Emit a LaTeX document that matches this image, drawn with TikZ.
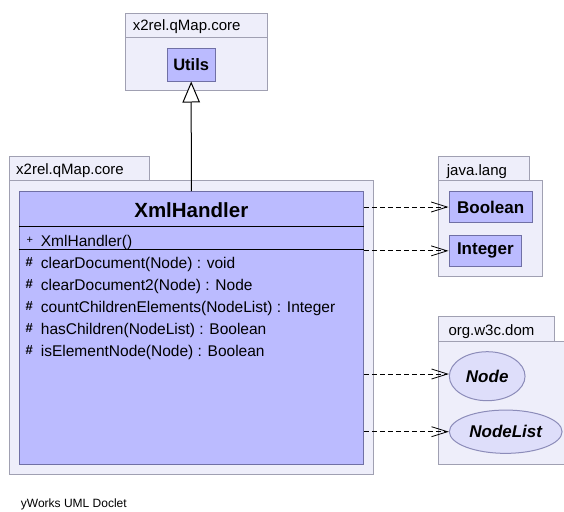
\documentclass[tikz,border=0pt]{standalone}
\usepackage{fontspec}
\setmainfont{Liberation Sans}
\usetikzlibrary{arrows.meta,shapes.geometric}

\definecolor{pkgfill}{RGB}{238,238,250}
\definecolor{pkgline}{RGB}{160,160,178}
\definecolor{clsfill}{RGB}{187,187,255}
\definecolor{clsline}{RGB}{112,112,165}
\definecolor{ifcfill}{RGB}{222,222,250}
\definecolor{ifcline}{RGB}{140,140,185}

\newcommand\fPkg{\fontsize{15}{15}\selectfont}
\newcommand\fMem{\fontsize{15.5}{16}\selectfont}
\newcommand\fMark{\fontsize{11}{11}\selectfont}
\newcommand\fHash{\fontsize{13}{13}\selectfont\bfseries}
\newcommand\fCls{\fontsize{16.5}{17}\selectfont\bfseries}
\newcommand\fTitle{\fontsize{20.5}{21}\selectfont\bfseries}
\newcommand\fFoot{\fontsize{12}{12}\selectfont}

\begin{document}
\begin{tikzpicture}[x=1pt,y=-1pt,
  pkg/.style={draw=pkgline, fill=pkgfill, line width=1pt},
  pkglabel/.style={anchor=base west, inner sep=0pt, font=\fPkg},
  cls/.style={draw=clsline, fill=clsfill, line width=1pt, inner sep=0pt, font=\fCls},
  ifc/.style={ellipse, draw=ifcline, fill=ifcfill, line width=1pt, inner sep=0pt,
              font=\fontsize{17}{17}\selectfont\bfseries\itshape},
  member/.style={anchor=base west, inner sep=0pt, font=\fMem},
  vis/.style={anchor=base west, inner sep=0pt, font=\fMark},
  prot/.style={anchor=base west, inner sep=0pt, font=\fHash},
  dep/.style={line width=0.8pt, dash pattern=on 5pt off 3pt,
              -{Straight Barb[length=16pt,width=10pt]}},
  gen/.style={line width=1pt, -{Triangle[length=21pt,width=17.5pt,fill=white]}}]

\clip (0,0) rectangle (564,511);
\fill[white] (0,0) rectangle (564,511);

% package holding Utils
\draw[pkg] (125.7,14) rectangle (267,37.7);
\draw[pkg] (125.7,37.7) rectangle (267,90.7);
\node[pkglabel] (lblUtilsPkg) at (132.7,30.5) {x2rel.qMap.core};
\node[cls, minimum width=47.7pt, minimum height=32pt] (utils) at (191.2,65) {Utils};

% package holding XmlHandler
\draw[pkg] (9,156) rectangle (149,180.7);
\draw[pkg] (9,180.7) rectangle (373,474);
\node[pkglabel] (lblMainPkg) at (16,174.7) {x2rel.qMap.core};

% class XmlHandler
\node[cls, minimum width=344pt, minimum height=272.3pt] (xml) at (191.3,327.85) {};
\node[anchor=base, inner sep=0pt, font=\fTitle] (xmlTitle) at (191.3,217) {XmlHandler};
\draw[line width=1pt] ([yshift=-35.6pt]xml.north west) -- ([yshift=-35.6pt]xml.north east);
\draw[line width=1pt] ([yshift=-58.3pt]xml.north west) -- ([yshift=-58.3pt]xml.north east);

\node[vis] (v0) at (26.5,243) {+};
\node[member] (m0) at (40.7,246) {XmlHandler()};
\node[prot] (v1) at (25.5,266.5) {\#};
\node[member] (m1) at (40.7,268) {clearDocument(Node) : void};
\node[prot] (v2) at (25.5,288.5) {\#};
\node[member] (m2) at (40.7,290) {clearDocument2(Node) : Node};
\node[prot] (v3) at (25.5,310.5) {\#};
\node[member] (m3) at (40.7,312) {countChildrenElements(NodeList) : Integer};
\node[prot] (v4) at (25.5,332.5) {\#};
\node[member] (m4) at (40.7,334) {hasChildren(NodeList) : Boolean};
\node[prot] (v5) at (25.5,354.5) {\#};
\node[member] (m5) at (40.7,356) {isElementNode(Node) : Boolean};

% package java.lang
\draw[pkg] (438,156.7) rectangle (529,180.7);
\draw[pkg] (438,180.7) rectangle (542.7,276.7);
\node[pkglabel] (lblLangPkg) at (446.7,175) {java.lang};
\node[cls, minimum width=83.3pt, minimum height=30.6pt, font=\fontsize{17}{17}\selectfont\bfseries] (bool) at (490.65,207) {Boolean};
\node[cls, minimum width=72.7pt, minimum height=31.7pt, font=\fontsize{17}{17}\selectfont\bfseries] (int) at (485.35,250.85) {Integer};

% package org.w3c.dom
\draw[pkg] (438,316) rectangle (554,341.7);
\draw[pkg] (438,341.7) rectangle (580,464);
\node[pkglabel] (lblDomPkg) at (448.3,335) {org.w3c.dom};
\node[ifc, minimum width=75.7pt, minimum height=49pt] (dnode) at (487.2,376.2) {Node};
\node[ifc, minimum width=112.7pt, minimum height=43.3pt] (dlist) at (505.7,431.7) {NodeList};

% relations
\draw[gen] (xml.north) -- (utils.south);
\draw[dep] (xml.east |- bool.west) -- (bool.west);
\draw[dep] (xml.east |- int.west) -- (int.west);
\draw[dep] (xml.east |- 0,374) -- (dnode.west |- 0,374);
\draw[dep] (xml.east |- dlist.west) -- (dlist.west);

\node[anchor=base west, inner sep=0pt, font=\fFoot] (footer) at (20.7,507.5) {yWorks UML Doclet};
\end{tikzpicture}
\end{document}
